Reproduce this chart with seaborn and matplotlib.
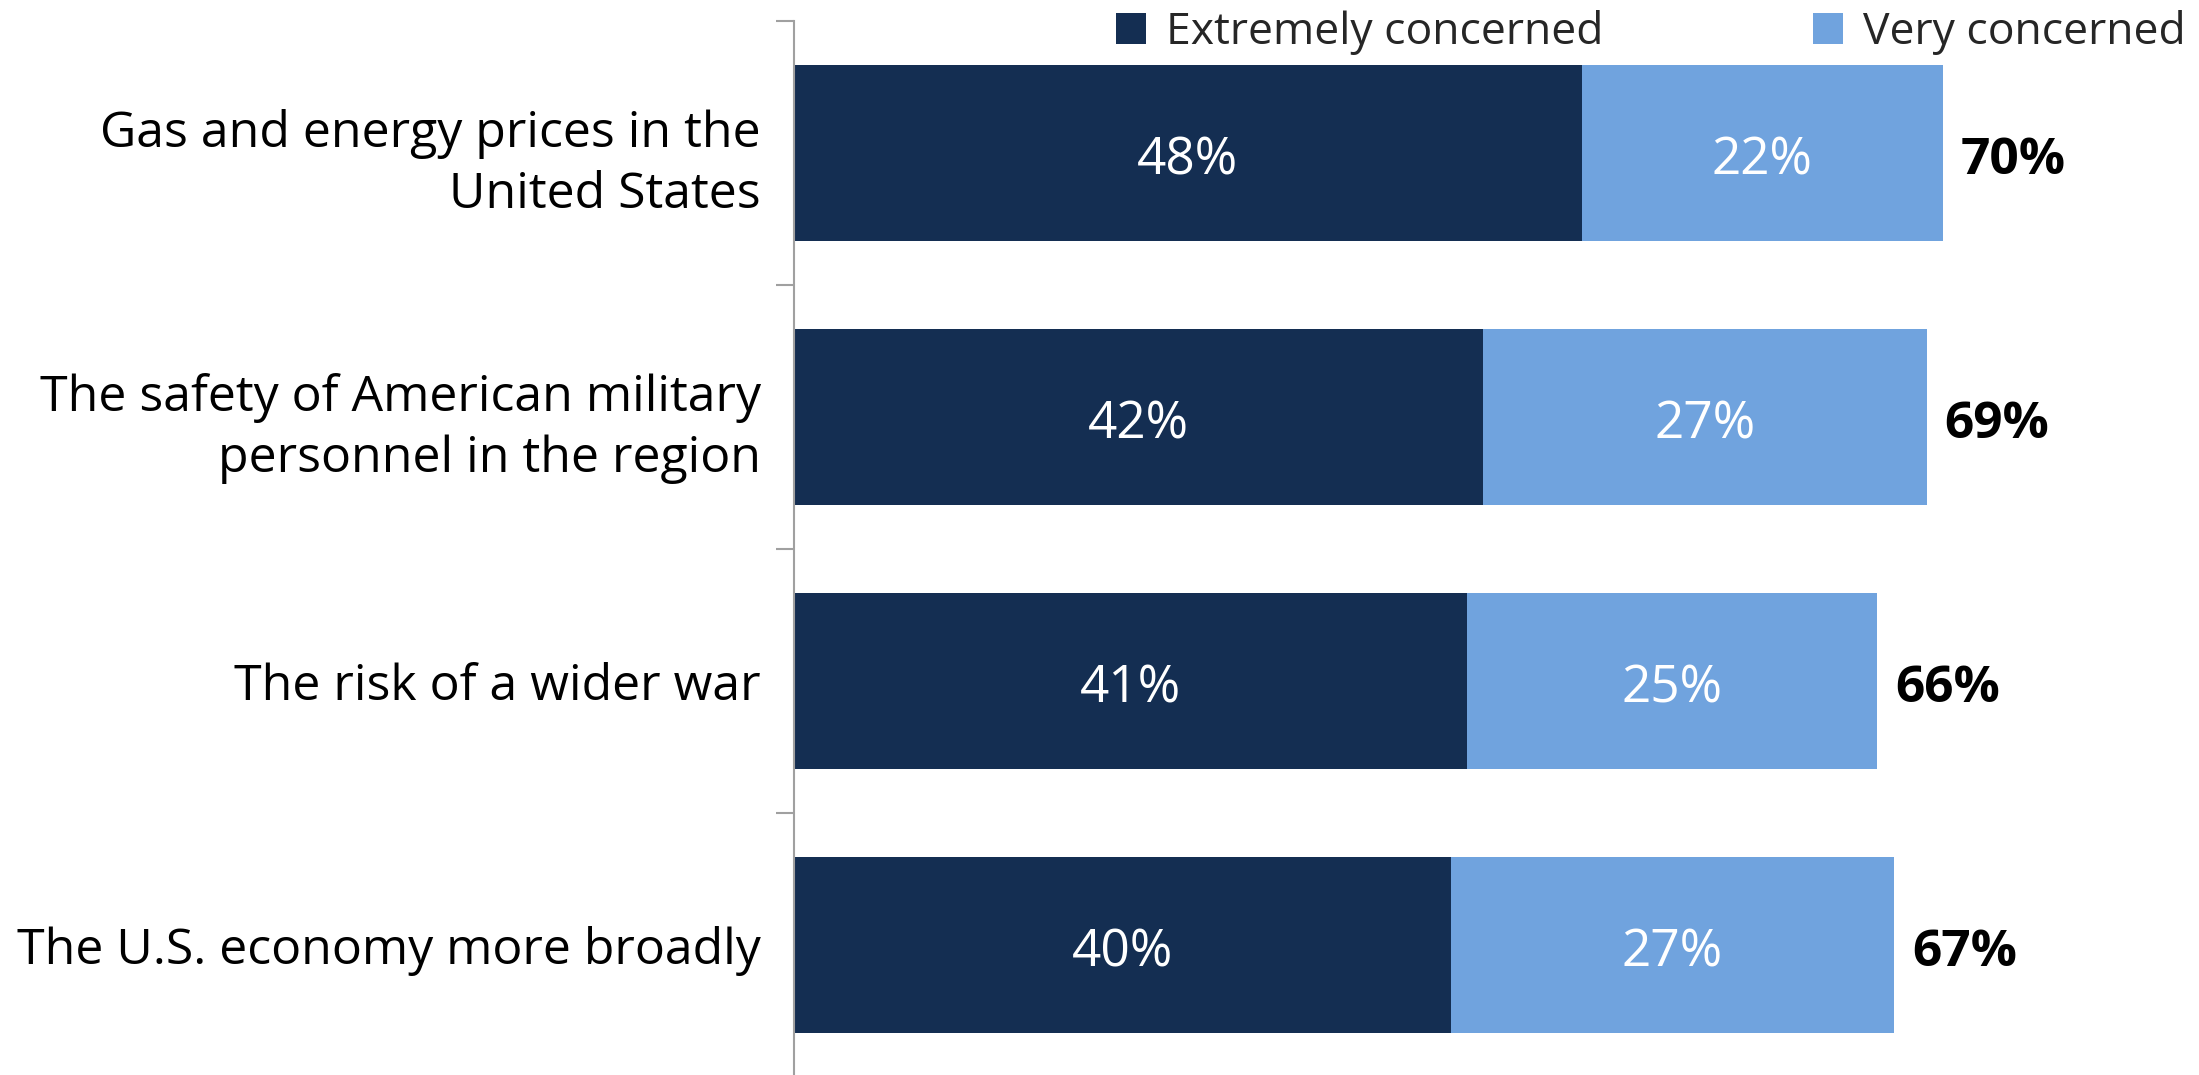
import matplotlib
matplotlib.use("Agg")
import matplotlib.pyplot as plt
import seaborn as sns
import pandas as pd
from matplotlib.patches import Patch

categories = ["Gas and energy prices in the\nUnited States",
              "The safety of American military\npersonnel in the region",
              "The risk of a wider war",
              "The U.S. economy more broadly"]
extremely = [48, 42, 41, 40]
very = [22, 27, 25, 27]
totals = [70, 69, 66, 67]
series_names = ["Extremely concerned", "Very concerned"]

dark = "#142E52"
light = "#70A3DE"

sns.set_theme(style="white")
plt.rcParams['font.family'] = ['Open Sans', 'DejaVu Sans']

df = pd.DataFrame({"cat": categories, "ext": extremely, "very": very,
                   "stack": [e + v for e, v in zip(extremely, very)], "tot": totals})

fig = plt.figure(figsize=(21.99, 10.75), dpi=100)
ax = fig.add_axes([794/2199, -2/1075, 1405/2199, 1056/1075])

sns.barplot(data=df, y="cat", x="stack", orient="h", color=light, width=0.67,
            ax=ax, saturation=1, edgecolor="none")
sns.barplot(data=df, y="cat", x="ext", orient="h", color=dark, width=0.67,
            ax=ax, saturation=1, edgecolor="none")

ax.set_xlim(0, 85.6)
ax.set_ylim(3.5, -0.5)
ax.set_xlabel("")
ax.set_ylabel("")
ax.set_xticks([])

fs_val = 37
for i, (e, v, t) in enumerate(zip(extremely, very, totals)):
    ax.text(e / 2, i + 0.03, f"{e}%", color="white", ha="center", va="center", fontsize=fs_val)
    ax.text(e + v / 2, i + 0.03, f"{v}%", color="white", ha="center", va="center", fontsize=fs_val)
    ax.text(e + v + 1.1, i + 0.03, f"{t}%", color="black", ha="left", va="center",
            fontsize=fs_val, fontweight="bold")

for s in ["top", "right", "bottom"]:
    ax.spines[s].set_visible(False)
ax.spines["left"].set_color("#A0A0A0")
ax.spines["left"].set_linewidth(1.5)

ax.set_yticks(range(len(categories)))
ax.set_yticklabels(categories, fontsize=36, color="black", linespacing=1.3)
ax.tick_params(axis="y", which="major", length=0, pad=24)
ax.set_yticks([-0.5, 0.5, 1.5, 2.5, 3.5], minor=True)
ax.tick_params(axis="y", which="minor", length=13, width=1.5, color="#A0A0A0", left=True)

handles = [Patch(facecolor=dark, edgecolor="none"), Patch(facecolor=light, edgecolor="none")]
fig.legend(handles, series_names, loc="upper right", bbox_to_anchor=(2188/2199, 1 - 8/1075),
           ncol=2, frameon=False, fontsize=32, handlelength=0.68, handleheight=0.68,
           handletextpad=0.45, columnspacing=4.7, borderaxespad=0.0, borderpad=0.05)

fig.savefig("out.png", dpi=100)
